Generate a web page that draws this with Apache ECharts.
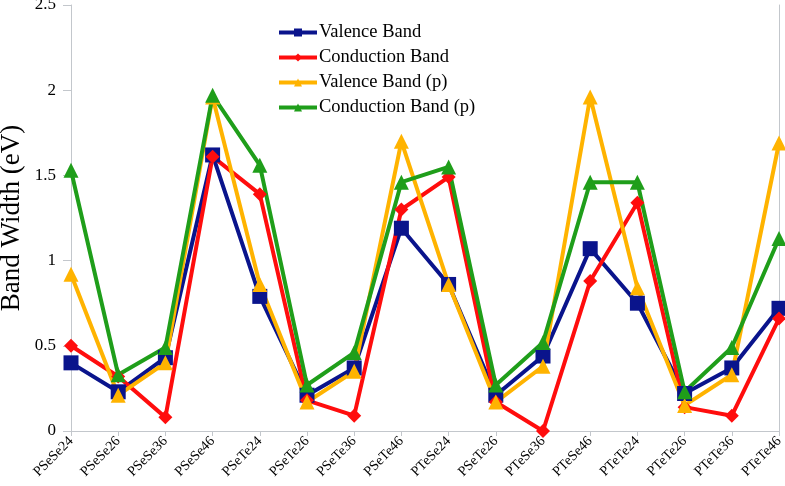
<!DOCTYPE html>
<html>
<head>
<meta charset="utf-8">
<script src="https://cdn.jsdelivr.net/npm/echarts@6/dist/echarts.min.js"></script>
<style>
  html, body { margin: 0; padding: 0; background: #fff; }
  #chart { width: 785px; height: 486px; }
</style>
</head>
<body>
<div id="chart"></div>
<script>
const categories = ['PSeSe24', 'PSeSe26', 'PSeSe36', 'PSeSe46', 'PSeTe24', 'PSeTe26', 'PSeTe36', 'PSeTe46',
  'PTeSe24', 'PSeTe26', 'PTeSe36', 'PTeSe46', 'PTeTe24', 'PTeTe26', 'PTeTe36', 'PTeTe46']
const valence = [0.40, 0.23, 0.43, 1.62, 0.79, 0.21, 0.37, 1.19, 0.86, 0.21, 0.44, 1.07, 0.75, 0.22, 0.37, 0.72]
const conduction = [0.50, 0.32, 0.08, 1.61, 1.39, 0.18, 0.09, 1.30, 1.49, 0.17, 0.00, 0.88, 1.34, 0.14, 0.09, 0.66]
const valenceP = [0.92, 0.21, 0.40, 1.96, 0.86, 0.17, 0.35, 1.70, 0.86, 0.17, 0.38, 1.96, 0.84, 0.15, 0.33, 1.69]
const conductionP = [1.53, 0.33, 0.49, 1.97, 1.56, 0.27, 0.46, 1.46, 1.55, 0.27, 0.52, 1.46, 1.46, 0.23, 0.49, 1.13]
const yTicks = [0, 0.5, 1, 1.5, 2, 2.5]

const serif = '"Liberation Serif", "DejaVu Serif", serif'
const axisGray = '#c3c7cc'

const chart = echarts.init(document.getElementById('chart'), null, { renderer: 'canvas' })

function lineSeries(name, data, color, symbol, size) {
  return {
    name,
    type: 'line',
    data,
    symbol,
    symbolSize: size,
    showSymbol: true,
    lineStyle: { color, width: 4 },
    itemStyle: { color },
    animation: false,
  }
}

chart.setOption({
  animation: false,
  textStyle: { fontFamily: serif },
  grid: { left: 71, right: 6, top: 5, bottom: 55, outerBoundsMode: 'none', containLabel: false },
  legend: {
    orient: 'vertical',
    left: 277,
    top: 23,
    padding: 0,
    itemWidth: 38,
    itemHeight: 10,
    itemGap: 6,
    lineStyle: { width: 4 },
    textStyle: { fontFamily: serif, fontSize: 18.5, color: '#000', padding: [0, 0, 0, -3] },
    data: ['Valence Band', 'Conduction Band', 'Valence Band (p)', 'Conduction Band (p)'],
  },
  xAxis: {
    type: 'category',
    data: categories,
    boundaryGap: false,
    axisLine: { lineStyle: { color: axisGray, width: 1 } },
    axisTick: { show: true, length: 5, lineStyle: { color: axisGray } },
    axisLabel: { rotate: 45, fontFamily: serif, fontSize: 14, color: '#000', margin: 8, interval: 0 },
  },
  yAxis: [
    {
      type: 'value',
      min: yTicks[0],
      max: yTicks[yTicks.length - 1],
      interval: 0.5,
      name: 'Band Width (eV)',
      nameLocation: 'middle',
      nameGap: 46,
      nameMoveOverlap: false,
      nameTextStyle: { fontFamily: serif, fontSize: 27, color: '#000' },
      axisLine: { show: true, lineStyle: { color: axisGray } },
      axisTick: { show: true, length: 8, lineStyle: { color: axisGray } },
      splitLine: { show: false },
      axisLabel: { fontFamily: serif, fontSize: 17, color: '#000', margin: 15 },
    },
    {
      type: 'value',
      position: 'right',
      min: yTicks[0],
      max: yTicks[yTicks.length - 1],
      interval: 0.5,
      axisLine: { show: true, lineStyle: { color: axisGray } },
      axisTick: { show: false },
      axisLabel: { show: false },
      splitLine: { show: false },
    },
  ],
  series: [
    lineSeries('Valence Band', valence, '#0a148c', 'rect', 15),
    lineSeries('Conduction Band', conduction, '#ff0d0d', 'diamond', 14),
    lineSeries('Valence Band (p)', valenceP, '#ffb300', 'triangle', 15),
    lineSeries('Conduction Band (p)', conductionP, '#1f9e1a', 'triangle', 15),
  ],
})
</script>
</body>
</html>
